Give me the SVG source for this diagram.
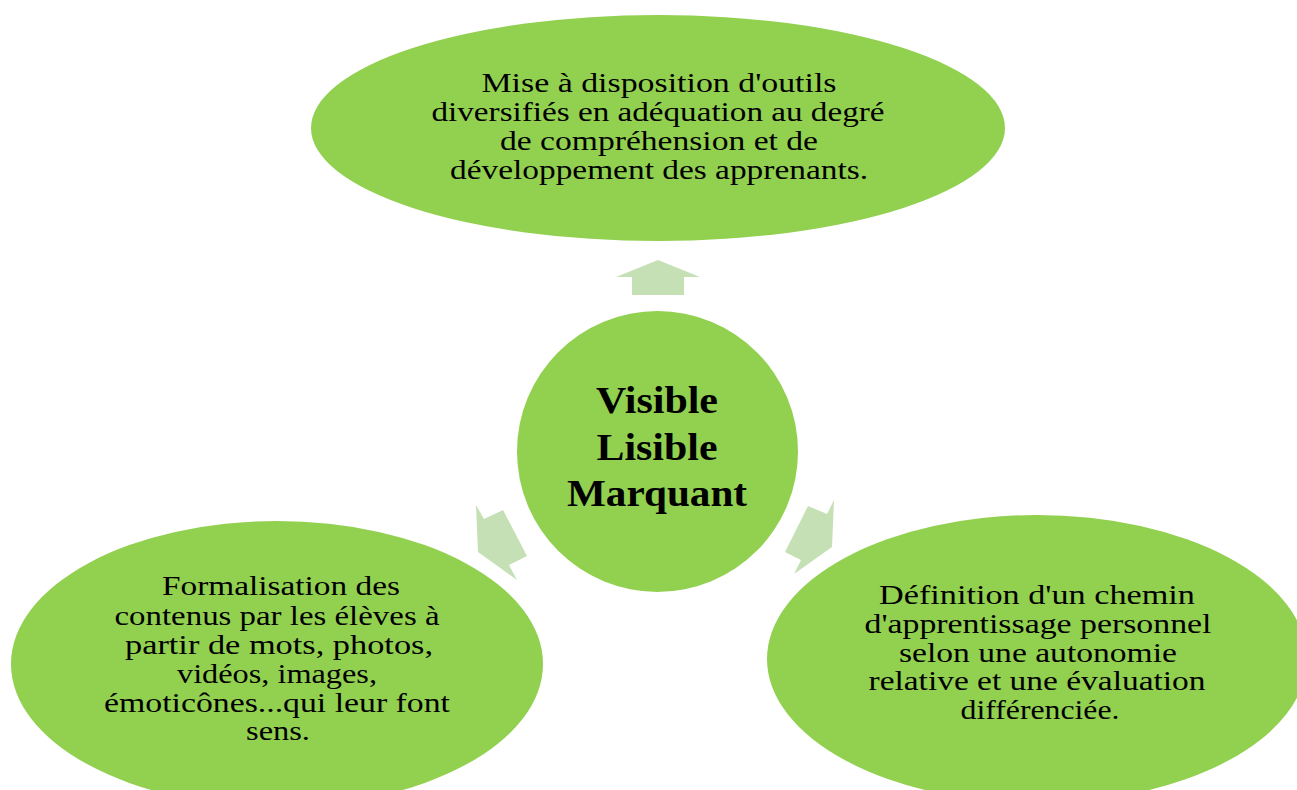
<svg xmlns="http://www.w3.org/2000/svg" width="1297" height="790" viewBox="0 0 1297 790">
<style>
.node{fill:#92d050;}
.arrow{fill:#c5e0b4;}
.t{font-family:"Liberation Serif","Times New Roman",serif;font-size:28px;fill:#000;text-anchor:middle;}
.c{font-family:"Liberation Serif","Times New Roman",serif;font-size:38px;font-weight:bold;fill:#000;text-anchor:middle;}
</style>
<rect width="1297" height="790" fill="#ffffff"/>
<g id="connectors">
<polygon class="arrow" points="658,260 700,277 684,277 684,295 632,295 632,277 616,277"/>
<polygon class="arrow" points="476,505 484,519 503,510 527,556 509,565 517,580 478,552"/>
<polygon class="arrow" points="834,500 832,547 794,574 801,560 785,552 808,506 827,514"/>
</g>
<g id="node-top">
<ellipse class="node" cx="658" cy="128" rx="347" ry="113"/>
<text class="t" x="659" y="92" textLength="355" lengthAdjust="spacingAndGlyphs">Mise à disposition d'outils</text>
<text class="t" x="658" y="121" textLength="453" lengthAdjust="spacingAndGlyphs">diversifiés en adéquation au degré</text>
<text class="t" x="659" y="150" textLength="318" lengthAdjust="spacingAndGlyphs">de compréhension et de</text>
<text class="t" x="659" y="179" textLength="418" lengthAdjust="spacingAndGlyphs">développement des apprenants.</text>
</g>
<g id="node-center">
<circle class="node" cx="657.5" cy="451.5" r="140.5"/>
<text class="c" x="657" y="413" textLength="122" lengthAdjust="spacingAndGlyphs">Visible</text>
<text class="c" x="657" y="460" textLength="121" lengthAdjust="spacingAndGlyphs">Lisible</text>
<text class="c" x="657" y="506" textLength="180" lengthAdjust="spacingAndGlyphs">Marquant</text>
</g>
<g id="node-left">
<ellipse class="node" cx="277" cy="664" rx="266" ry="143"/>
<text class="t" x="281" y="595" textLength="238" lengthAdjust="spacingAndGlyphs">Formalisation des</text>
<text class="t" x="277" y="625" textLength="325" lengthAdjust="spacingAndGlyphs">contenus par les élèves à</text>
<text class="t" x="279" y="654" textLength="308" lengthAdjust="spacingAndGlyphs">partir de mots, photos,</text>
<text class="t" x="277" y="683" textLength="200" lengthAdjust="spacingAndGlyphs">vidéos, images,</text>
<text class="t" x="277" y="712" textLength="346" lengthAdjust="spacingAndGlyphs">émoticônes...qui leur font</text>
<text class="t" x="278" y="740" textLength="64" lengthAdjust="spacingAndGlyphs">sens.</text>
</g>
<g id="node-right">
<ellipse class="node" cx="1037" cy="659" rx="270" ry="144"/>
<text class="t" x="1037" y="604" textLength="316" lengthAdjust="spacingAndGlyphs">Définition d'un chemin</text>
<text class="t" x="1038" y="633" textLength="347" lengthAdjust="spacingAndGlyphs">d'apprentissage personnel</text>
<text class="t" x="1038" y="662" textLength="278" lengthAdjust="spacingAndGlyphs">selon une autonomie</text>
<text class="t" x="1037" y="690" textLength="337" lengthAdjust="spacingAndGlyphs">relative et une évaluation</text>
<text class="t" x="1040" y="719" textLength="159" lengthAdjust="spacingAndGlyphs">différenciée.</text>
</g>
</svg>
